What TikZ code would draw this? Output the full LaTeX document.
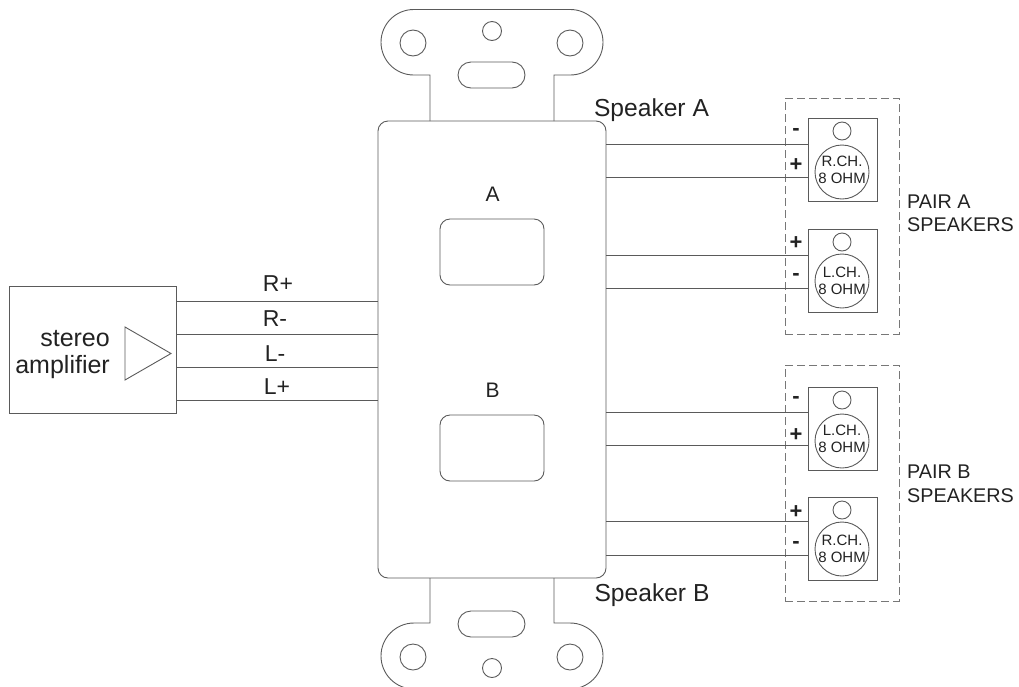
\documentclass[tikz,border=0pt]{standalone}
\usepackage{fontspec}
\usepackage{xcolor}
\setmainfont{Liberation Sans}
\definecolor{wirecol}{HTML}{5A5A5A}
\definecolor{dashcol}{HTML}{777777}
\definecolor{textcol}{HTML}{222222}
\tikzset{
    wire/.style={draw=wirecol, line width=0.9pt},
    box/.style={wire, rectangle, inner sep=0pt, outer sep=0pt},
    hole/.style={wire, circle, inner sep=0pt, outer sep=0pt, minimum size=#1},
    slot/.style={box, rounded corners=13pt, minimum width=67pt, minimum height=26pt},
    window/.style={box, rounded corners=10pt, minimum width=104pt, minimum height=66pt},
    speaker/.style={box, minimum width=69pt, minimum height=83pt},
    pairbox/.style={box, draw=dashcol, dash pattern=on 8pt off 4pt, minimum width=114pt, minimum height=236pt},
    bigtext/.style={text=textcol, font=\fontsize{25}{27}\selectfont, inner sep=0pt, align=right, anchor=east},
    spktext/.style={text=textcol, font=\fontsize{24.6}{26}\selectfont},
    wiretext/.style={text=textcol, font=\fontsize{23}{24}\selectfont},
    platetext/.style={text=textcol, font=\fontsize{21}{23}\selectfont},
    pairtext/.style={text=textcol, font=\fontsize{19.8}{23.5}\selectfont, inner sep=0pt, align=left, anchor=west},
    conetext/.style={text=textcol, font=\fontsize{15}{17}\selectfont, align=center},
    signtext/.style={text=textcol, font=\fontsize{22}{24}\selectfont\bfseries}
}

\begin{document}
\begin{tikzpicture}[x=1pt, y=-1pt]
    \clip[use as bounding box] (0,0) rectangle (1019,686);

    % Wall plate
    \node[box, rounded corners=10pt, minimum width=228pt, minimum height=457pt] (plate) at (492,349.5) {};
    \node[window] (winA) at (492,252) {};
    \node[window] (winB) at (492,448) {};
    \node[platetext] (labA) at (492.5,194) {A};
    \node[platetext] (labB) at (492.5,390) {B};

    % Top ear
    \draw[wire] (430,121) -- (430,75) [rounded corners=32.75pt] -- (381,75) -- (381,9.5) -- (603,9.5) -- (603,75) [sharp corners] -- (554,75) -- (554,121);
    \node[hole=26pt] (topL) at (413,43) {};
    \node[hole=26pt] (topR) at (570,43) {};
    \node[hole=19pt] (topS) at (492,31) {};
    \node[slot] (topSlot) at (491.5,75) {};

    % Bottom ear
    \draw[wire] (430,578) -- (430,623) [rounded corners=33pt] -- (381,623) -- (381,689) -- (603,689) -- (603,623) [sharp corners] -- (554,623) -- (554,578);
    \node[hole=26pt] (botL) at (413,657) {};
    \node[hole=26pt] (botR) at (570,657) {};
    \node[hole=19pt] (botS) at (492,668) {};
    \node[slot] (botSlot) at (491.5,624) {};

    \node[spktext] (spkA) at (651.5,110.5) {Speaker A};
    \node[spktext] (spkB) at (652,595.5) {Speaker B};

    % Amplifier
    \node[box, minimum width=166.5pt, minimum height=127pt] (amp) at (92.75,349.5) {};
    \draw[wire] (125,327) -- (171,353.5) -- (125,380) -- cycle;
    \node[bigtext] (ampText) at (110,354.5) {stereo\\amplifier};

    % Amplifier wires
    \foreach \y/\name in {301.5/rp, 334.5/rm, 367.5/lm, 400.5/lp} {
        \coordinate (\name) at (0,\y);
        \draw[wire] (amp.east |- \name) -- (plate.west |- \name);
    }
    \node[wiretext] (labRp) at (278,284) {R+};
    \node[wiretext] (labRm) at (275,319) {R-};
    \node[wiretext] (labLm) at (275,354) {L-};
    \node[wiretext] (labLp) at (277,387) {L+};

    % Pair A
    \node[pairbox] (pairA) at (842,216) {};
    \node[speaker] (boxAR) at (842.5,159.5) {};
    \node[speaker] (boxAL) at (842.5,270.5) {};
    \node[hole=18pt] (ledAR) at (842,131) {};
    \node[hole=18pt] (ledAL) at (842,242) {};
    \node[hole=54pt] (coneAR) at (842,172) {};
    \node[hole=54pt] (coneAL) at (842,281) {};
    \node[conetext] (txtAR) at (842,169.5) {R.CH.\\8 OHM};
    \node[conetext] (txtAL) at (842,280.5) {L.CH.\\8 OHM};
    \foreach \y/\name in {144.5/a1, 177.5/a2} {
        \coordinate (\name) at (0,\y);
        \draw[wire] (plate.east |- \name) -- (boxAR.west |- \name);
    }
    \foreach \y/\name in {255/a3, 288/a4} {
        \coordinate (\name) at (0,\y);
        \draw[wire] (plate.east |- \name) -- (boxAL.west |- \name);
    }
    \node[signtext] (sgnA1) at (796,132) {-};
    \node[signtext] (sgnA2) at (796,165) {+};
    \node[signtext] (sgnA3) at (796,243) {+};
    \node[signtext] (sgnA4) at (796,277) {-};
    \node[pairtext] (txtA) at (907,213.5) {PAIR A\\SPEAKERS};

    % Pair B
    \node[pairbox] (pairB) at (842,483) {};
    \node[speaker] (boxBL) at (842.5,428.5) {};
    \node[speaker] (boxBR) at (842.5,538.5) {};
    \node[hole=18pt] (ledBL) at (842,400) {};
    \node[hole=18pt] (ledBR) at (842,510) {};
    \node[hole=54pt] (coneBL) at (842,441) {};
    \node[hole=54pt] (coneBR) at (842,549) {};
    \node[conetext] (txtBL) at (842,438.5) {L.CH.\\8 OHM};
    \node[conetext] (txtBR) at (842,548.5) {R.CH.\\8 OHM};
    \foreach \y/\name in {412/b1, 445/b2} {
        \coordinate (\name) at (0,\y);
        \draw[wire] (plate.east |- \name) -- (boxBL.west |- \name);
    }
    \foreach \y/\name in {521/b3, 555/b4} {
        \coordinate (\name) at (0,\y);
        \draw[wire] (plate.east |- \name) -- (boxBR.west |- \name);
    }
    \node[signtext] (sgnB1) at (796,400) {-};
    \node[signtext] (sgnB2) at (796,435) {+};
    \node[signtext] (sgnB3) at (796,512) {+};
    \node[signtext] (sgnB4) at (796,545) {-};
    \node[pairtext] (txtB) at (907,484) {PAIR B\\SPEAKERS};
\end{tikzpicture}
\end{document}
